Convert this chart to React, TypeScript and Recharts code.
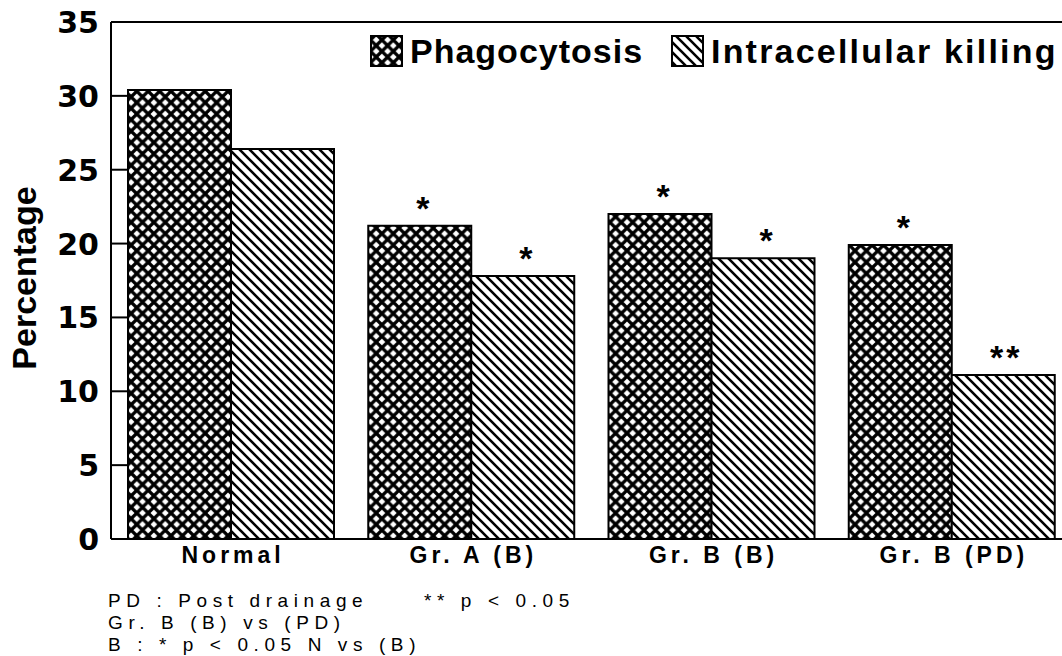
import { Bar, BarChart, LabelList, ReferenceLine, XAxis, YAxis } from "recharts";

const categories = ["Normal", "Gr. A (B)", "Gr. B (B)", "Gr. B (PD)"];
const phagocytosis = [30.4, 21.2, 22.0, 19.9];
const intracellularKilling = [26.4, 17.8, 19.0, 11.1];
const phagoMarks = ["", "*", "*", "*"];
const killingMarks = ["", "*", "*", "**"];
const yTicks = [0, 5, 10, 15, 20, 25, 30, 35];
const legendNames = ["Phagocytosis", "Intracellular killing"];
const footnotes = ["PD : Post drainage", "Gr. B (B) vs (PD)", "B : * p < 0.05 N vs (B)"];
const footnoteExtra = "** p < 0.05";

const data = categories.map((name, i) => ({
  name,
  phago: phagocytosis[i],
  killing: intracellularKilling[i],
  phagoMark: phagoMarks[i],
  killingMark: killingMarks[i],
}));

const arial = "'Liberation Sans', Arial, sans-serif";
const dejavu = "'DejaVu Sans', sans-serif";

function Patterns({ prefix }: { prefix: string }) {
  return (
    <defs>
      <pattern id={`${prefix}x`} patternUnits="userSpaceOnUse" width={11.4} height={11.4}>
        <rect width={11.4} height={11.4} fill="#fff" />
        <path d="M-2,-2 L13.4,13.4 M13.4,-2 L-2,13.4" stroke="#000" strokeWidth={3.3} />
      </pattern>
      <pattern id={`${prefix}d`} patternUnits="userSpaceOnUse" width={10} height={10}>
        <rect width={10} height={10} fill="#fff" />
        <path d="M-1,-1 L11,11 M9,-1 L11,1 M-1,9 L1,11" stroke="#000" strokeWidth={2.6} />
      </pattern>
    </defs>
  );
}

const YTick = ({ x, y, payload }: any) => (
  <g>
    {payload.value > 0 && payload.value < 35 && <line x1={x} x2={x + 17} y1={y} y2={y} stroke="#000" strokeWidth={2} />}
    <text x={99} y={y + 11} textAnchor="end" fontFamily={dejavu} fontWeight="bold" fontSize={30} fill="#000">
      {payload.value}
    </text>
  </g>
);

const XTick = ({ x, y, payload }: any) => (
  <text x={x + 2} y={y + 24} textAnchor="middle" fontFamily={arial} fontWeight="bold" fontSize={23} letterSpacing={4} fill="#000">
    {payload.value}
  </text>
);

const Mark = ({ x, y, width, value }: any) =>
  value ? (
    <text x={x + width / 2 + 3} y={y - 6} textAnchor="middle" fontFamily={arial} fontWeight="bold" fontSize={34} letterSpacing={value.length > 1 ? 3 : 0} fill="#000">
      {value}
    </text>
  ) : null;

export default function App() {
  return (
    <div style={{ position: "absolute", left: 0, top: 0, width: 1062, height: 656, overflow: "hidden", background: "#fff" }}>
      <BarChart width={1080} height={656} data={data} margin={{ top: 22, right: 8, bottom: 77, left: 0 }} barCategoryGap={17} barGap={0}>
        <Patterns prefix="bar" />
        <ReferenceLine y={35} stroke="#000" strokeWidth={2} />
        <XAxis dataKey="name" height={40} tickSize={0} tickMargin={0} tickLine={false} axisLine={{ stroke: "#000", strokeWidth: 2 }} tick={<XTick />} interval={0} />
        <YAxis
          width={111}
          domain={[0, 35]}
          ticks={yTicks}
          tickSize={0}
          tickMargin={0}
          tickLine={false}
          axisLine={{ stroke: "#000", strokeWidth: 2 }}
          tick={<YTick />}
          label={{
            content: () => (
              <text x={36} y={278} transform="rotate(-90, 36, 278)" textAnchor="middle" fontFamily={arial} fontWeight="bold" fontSize={34} fill="#000">
                Percentage
              </text>
            ),
          }}
        />
        <Bar dataKey="phago" name={legendNames[0]} fill="url(#barx)" stroke="#000" strokeWidth={2} isAnimationActive={false}>
          <LabelList dataKey="phagoMark" content={<Mark />} />
        </Bar>
        <Bar dataKey="killing" name={legendNames[1]} fill="url(#bard)" stroke="#000" strokeWidth={2} isAnimationActive={false}>
          <LabelList dataKey="killingMark" content={<Mark />} />
        </Bar>
      </BarChart>
      <svg width={1062} height={656} style={{ position: "absolute", left: 0, top: 0, pointerEvents: "none" }}>
        <Patterns prefix="leg" />
        <rect x={371} y={36} width={31} height={30} fill="url(#legx)" stroke="#000" strokeWidth={2} />
        <text x={410} y={63} fontFamily={arial} fontWeight="bold" fontSize={34} letterSpacing={1} fill="#000">{legendNames[0]}</text>
        <rect x={672} y={36} width={31} height={30} fill="url(#legd)" stroke="#000" strokeWidth={2} />
        <text x={711} y={63} fontFamily={arial} fontWeight="bold" fontSize={34} letterSpacing={2.2} fill="#000">{legendNames[1]}</text>
        {footnotes.map((t, i) => (
          <text key={t} x={108} y={607 + i * 22} fontFamily={arial} fontSize={19} letterSpacing={5.6} fill="#000">{t}</text>
        ))}
        <text x={424} y={607} fontFamily={arial} fontSize={19} letterSpacing={5.6} fill="#000">{footnoteExtra}</text>
      </svg>
    </div>
  );
}
